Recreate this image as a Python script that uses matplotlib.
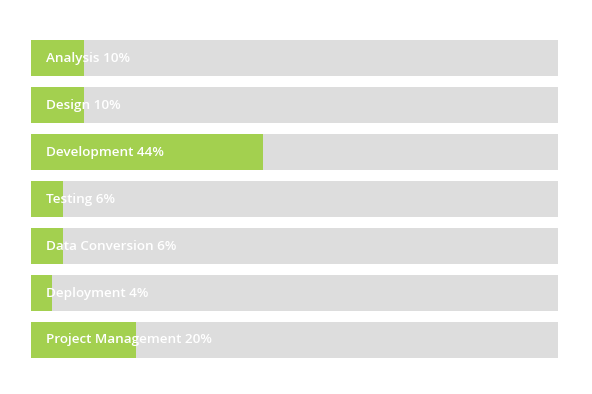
"""Horizontal progress bars for project phase effort"""

import matplotlib.pyplot as plt

phases = ["Analysis", "Design", "Development", "Testing",
          "Data Conversion", "Deployment", "Project Management"]
percent = [10, 10, 44, 6, 6, 4, 20]

GREEN = "#a3d04f"
GRAY = "#dddddd"

fig = plt.figure(figsize=(5.92, 3.94), dpi=100)
W, H = 592, 394
ax = fig.add_axes([31 / W, (H - 358) / H, 527 / W, 318 / H])

pitch = 47
h = 36 / pitch
ypos = list(range(len(phases)))

ax.barh(ypos, [100] * len(phases), height=h, color=GRAY, left=0)
ax.barh(ypos, percent, height=h, color=GREEN, left=0)

for y, name, p in zip(ypos, phases, percent):
    ax.text(15 / 527 * 100, y, f"{name} {p}%", color="white",
            fontsize=9.7, fontweight="semibold", family="Open Sans",
            va="center", ha="left")

ax.set_xlim(0, 100)
ax.set_ylim(len(phases) - 1 + h / 2, -h / 2)
ax.axis("off")

fig.savefig("out.png", dpi=100)
